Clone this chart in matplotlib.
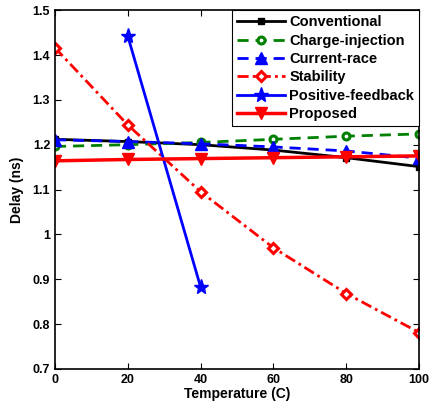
import matplotlib
matplotlib.use('Agg')
import matplotlib.pyplot as plt

plt.rcParams['font.family'] = ['Liberation Sans', 'DejaVu Sans']
plt.rcParams['font.weight'] = 'bold'

#=====data=====
temp = [0, 20, 40, 60, 80, 100]
conventional = [1.212, 1.207, 1.200, 1.188, 1.171, 1.151]
charge_inj = [1.196, 1.200, 1.205, 1.212, 1.219, 1.224]
current_race = [1.211, 1.207, 1.202, 1.195, 1.186, 1.170]
stability = [1.416, 1.244, 1.095, 0.970, 0.868, 0.781]
pf_temp = [20, 40]
positive_fb = [1.442, 0.882]
proposed = [1.164, 1.167, 1.169, 1.171, 1.173, 1.175]

fig = plt.figure(figsize=(4.33, 4.08), dpi=100)
ax = fig.add_axes([0.127, 0.096, 0.841, 0.879])

ax.plot(temp, conventional, '-s', color='black', lw=2, ms=4.5, label='Conventional')
ax.plot(temp, charge_inj, 'o', ls=(0, (4, 2.5)), color='#008000', lw=2, ms=5, mfc='white',
        mew=2.2, label='Charge-injection')
ax.plot(temp, current_race, '^', ls=(0, (4, 2.5)), color='blue', lw=2, ms=8,
        label='Current-race')
ax.plot(temp, stability, 'D', ls=(0, (4, 1.5, 1, 1.5)), color='red', lw=2, ms=5,
        mfc='white', mew=2.2, label='Stability')
ax.plot(pf_temp, positive_fb, '-*', color='blue', lw=2, ms=11, label='Positive-feedback')
ax.plot(temp, proposed, '-v', color='red', lw=2.5, ms=8, label='Proposed')

ax.set_xlim(0, 100)
ax.set_ylim(0.7, 1.5)
ax.set_xticks(temp)
ax.set_yticks([0.7, 0.8, 0.9, 1.0, 1.1, 1.2, 1.3, 1.4, 1.5])
ax.set_yticklabels(['0.7', '0.8', '0.9', '1', '1.1', '1.2', '1.3', '1.4', '1.5'])
ax.tick_params(direction='in', top=True, right=True, labelsize=9, length=4, width=0.8)
for s in ax.spines.values():
    s.set_linewidth(1.2)
ax.set_xlabel('Temperature (C)', fontsize=10, fontweight='bold', labelpad=1)
ax.set_ylabel('Delay (ns)', fontsize=10, fontweight='bold', labelpad=6)

leg = ax.legend(loc='upper right', borderaxespad=0, fancybox=False, framealpha=1,
                edgecolor='black', fontsize=10.5, handlelength=3.3, labelspacing=0.3,
                handletextpad=0.3, borderpad=0.35)
leg.get_frame().set_linewidth(0.8)

fig.savefig('out.png', dpi=100)
